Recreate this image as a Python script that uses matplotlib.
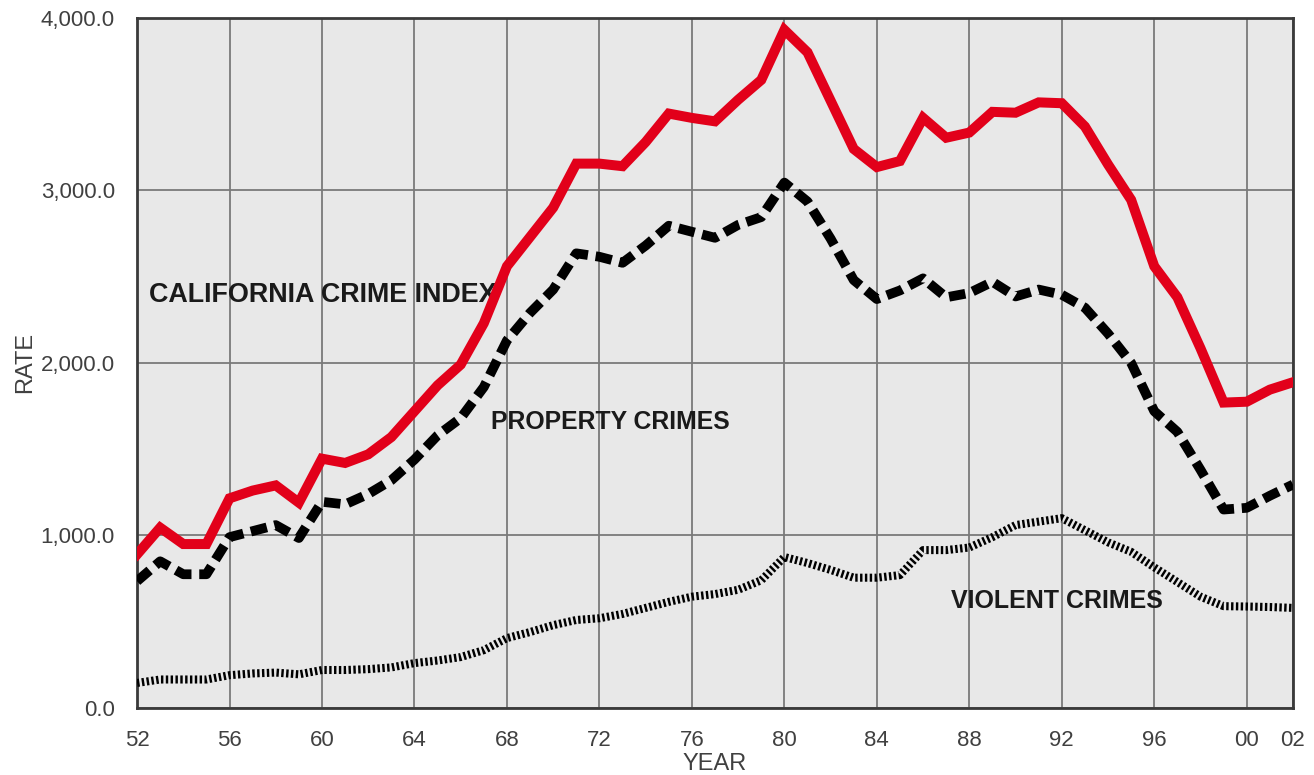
import matplotlib
matplotlib.use("Agg")
import matplotlib.pyplot as plt

years = list(range(1952, 2003))

# California crime index (rate per 100,000)
crime_index = [
    890, 1045, 950, 950, 1215, 1260, 1290, 1190, 1445, 1420,
    1470, 1570, 1720, 1870, 1990, 2230, 2560, 2730, 2900, 3155,
    3155, 3140, 3280, 3445, 3420, 3400, 3525, 3640, 3930, 3800,
    3520, 3240, 3135, 3170, 3420, 3305, 3335, 3455, 3450, 3510,
    3505, 3370, 3150, 2945, 2560, 2380, 2085, 1770, 1775, 1845,
    1888,
]

property_crimes = [
    735, 850, 775, 775, 990, 1025, 1060, 985, 1195, 1180,
    1240, 1320, 1440, 1580, 1680, 1860, 2130, 2290, 2425, 2635,
    2615, 2580, 2680, 2795, 2760, 2725, 2800, 2845, 3045, 2935,
    2720, 2480, 2370, 2420, 2490, 2380, 2405, 2470, 2385, 2425,
    2395, 2320, 2170, 2000, 1720, 1600, 1380, 1150, 1160, 1230,
    1295,
]

violent_crimes = [
    145, 165, 165, 165, 190, 200, 205, 195, 220, 220,
    225, 235, 260, 275, 295, 335, 405, 440, 480, 510,
    520, 545, 580, 615, 645, 660, 685, 740, 875, 840,
    800, 755, 755, 770, 915, 915, 930, 990, 1060, 1080,
    1100, 1030, 960, 905, 815, 730, 645, 590, 588, 585,
    580,
]

x_ticks = list(range(1952, 2001, 4)) + [2002]
x_tick_labels = [f"{y % 100:02d}" for y in x_ticks]
y_ticks = [0, 1000, 2000, 3000, 4000]

plt.rcParams["font.family"] = ["Liberation Sans", "DejaVu Sans"]

fig = plt.figure(figsize=(13.14, 7.75), dpi=100)
ax = fig.add_axes([0.1043, 0.0865, 0.8797, 0.8905])
ax.set_facecolor("#e8e8e8")

# Lines
ax.plot(years, violent_crimes, color="black", linewidth=5.8,
        linestyle=(0, (0.3, 0.3)), solid_capstyle="butt", zorder=3)
ax.plot(years, property_crimes, color="black", linewidth=7,
        linestyle=(0, (1.7, 0.8)), dash_capstyle="butt", zorder=3)
ax.plot(years, crime_index, color="#e2001a", linewidth=7.2,
        solid_joinstyle="miter", zorder=4)

ax.set_xlim(1952, 2002)
ax.set_ylim(0, 4000)
ax.set_xticks(x_ticks)
ax.set_xticklabels(x_tick_labels)
ax.set_yticks(y_ticks)
ax.set_yticklabels([f"{v:,.1f}" for v in y_ticks])

ax.grid(True, color="#7a7a7a", linewidth=1.3, zorder=1)
ax.set_axisbelow(True)
ax.tick_params(axis="both", length=0, labelsize=16, colors="#404040")
ax.tick_params(axis="y", pad=16)
ax.tick_params(axis="x", pad=16)

for side in ["left", "bottom", "top", "right"]:
    ax.spines[side].set_color("#3a3a3a")
    ax.spines[side].set_linewidth(2)

ax.set_xlabel("YEAR", fontsize=17, color="#404040", labelpad=1)
ax.set_ylabel("RATE", fontsize=17, color="#404040", labelpad=3)

# Series labels
ax.text(1952.5, 2395, "CALIFORNIA CRIME INDEX", fontsize=19.4, fontweight="bold",
        color="#1a1a1a", va="center", ha="left")
ax.text(1967.3, 1660, "PROPERTY CRIMES", fontsize=17.8, fontweight="bold",
        color="#1a1a1a", va="center", ha="left")
ax.text(1987.2, 620, "VIOLENT CRIMES", fontsize=18, fontweight="bold",
        color="#1a1a1a", va="center", ha="left")

fig.savefig("out.png", dpi=100)
